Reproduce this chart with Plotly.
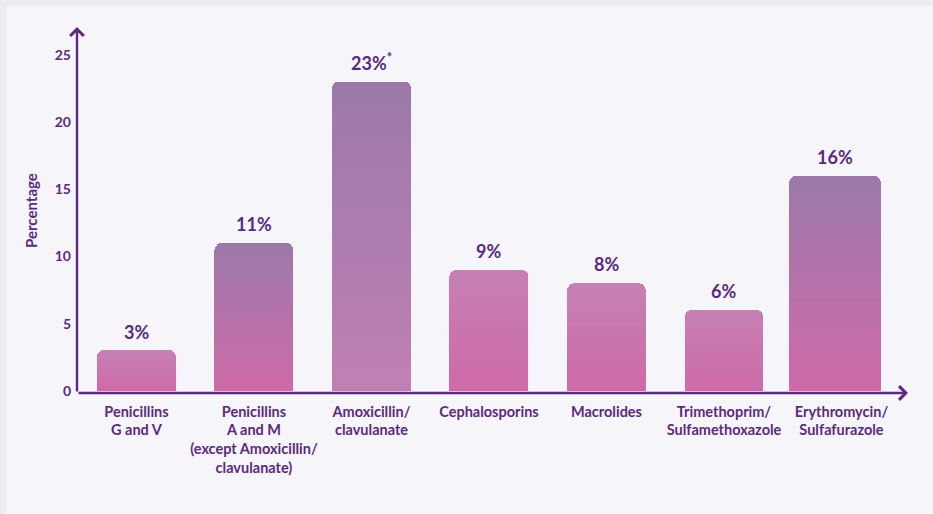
import plotly.graph_objects as go

# Share of resistant isolates by antibiotic class (%)
categories = [
    "Penicillins<br>G and V",
    "Penicillins<br>A and M<br>(except Amoxicillin/<br>clavulanate)",
    "Amoxicillin/<br>clavulanate",
    "Cephalosporins",
    "Macrolides",
    "Trimethoprim/<br>Sulfamethoxazole",
    "Erythromycin/<br>Sulfafurazole",
]
values = [3, 11, 23, 9, 8, 6, 16]
footnotes = ["", "", "*", "", "", "", ""]
y_ticks = [0, 5, 10, 15, 20, 25]

# Styling
INK = "#5b2a7e"
FONT = "Lato"
PURPLE = (155, 121, 170)
LAVENDER = (197, 128, 180)
PINK = (207, 106, 168)
MAUVE = (193, 128, 180)
# (top colour, bottom colour) for each bar's vertical gradient
gradients = [
    (LAVENDER, PINK),
    (PURPLE, PINK),
    (PURPLE, MAUVE),
    (LAVENDER, PINK),
    (LAVENDER, PINK),
    (LAVENDER, PINK),
    (PURPLE, PINK),
]
bar_widths = [0.672] * 6 + [0.78]

X_RANGE = [-0.506, 6.566]
Y_RANGE = [-0.15, 27.06]


def mix(c_top, c_bot, t):
    """t = 0 at the bar base, 1 at the bar top."""
    r, g, b = (round(cb + (ct - cb) * t) for ct, cb in zip(c_top, c_bot))
    return f"rgb({r},{g},{b})"


fig = go.Figure()

# Each bar is a stack of thin slices so it can carry a vertical gradient
N = 60
for k in range(N):
    t = (k + 0.5) / N
    fig.add_trace(go.Bar(
        x=categories,
        y=[v / N for v in values],
        width=bar_widths,
        offset=[-w / 2 for w in bar_widths[:6]] + [-bar_widths[6] / 2 - 0.055],
        marker=dict(color=[mix(top, bot, t) for top, bot in gradients],
                    line=dict(width=0)),
        hoverinfo="skip",
        showlegend=False,
    ))

annotations = []
# Value labels above the bars
for i, (v, note) in enumerate(zip(values, footnotes)):
    text = f"{v}%" + (f"<sup>{note}</sup>" if note else "")
    annotations.append(dict(
        x=i - (0.055 if i == 6 else 0), y=v, xref="x", yref="y", text=text,
        showarrow=False, yanchor="bottom", yshift=6,
        font=dict(family=FONT, size=18, color=INK, weight="bold"),
    ))

# Axis lines with open arrowheads
annotations.append(dict(
    x=X_RANGE[0], y=Y_RANGE[1], ax=X_RANGE[0], ay=Y_RANGE[0],
    xref="x", yref="y", axref="x", ayref="y", text="",
    showarrow=True, arrowhead=4, arrowsize=1.1, arrowwidth=2.4, arrowcolor=INK,
))
annotations.append(dict(
    x=X_RANGE[1], y=Y_RANGE[0], ax=X_RANGE[0], ay=Y_RANGE[0],
    xref="x", yref="y", axref="x", ayref="y", text="",
    showarrow=True, arrowhead=4, arrowsize=1.1, arrowwidth=2.4, arrowcolor=INK,
))
# Y-axis title
annotations.append(dict(
    x=-0.0554, y=0.5, xref="paper", yref="paper", text="Percentage",
    textangle=-90, showarrow=False, xanchor="center", yanchor="middle",
    font=dict(family=FONT, size=15, color=INK, weight="bold"),
))

fig.update_layout(
    width=933, height=514,
    margin=dict(l=77, r=25, t=27, b=121),
    barmode="stack",
    barcornerradius=7,
    paper_bgcolor="#eeecf1",
    plot_bgcolor="rgba(0,0,0,0)",
    font=dict(family=FONT, color=INK),
    annotations=annotations,
    shapes=[dict(
        type="rect", xref="paper", yref="paper", layer="below",
        x0=-0.0854, x1=1.05, y0=-0.35, y1=1.0574,
        fillcolor="#f6f5f9", line=dict(width=0),
    )],
    xaxis=dict(
        type="category", range=X_RANGE, showgrid=False, zeroline=False,
        showline=False, ticks="", fixedrange=True, ticklabelstandoff=8,
        tickfont=dict(family=FONT, size=14.5, color=INK, weight="bold"),
    ),
    yaxis=dict(
        range=Y_RANGE, tickvals=y_ticks, showgrid=False, zeroline=False,
        showline=False, ticks="", ticklabelstandoff=5,
        tickfont=dict(family=FONT, size=14, color=INK, weight="bold"),
    ),
)

fig.write_html("out.html")
